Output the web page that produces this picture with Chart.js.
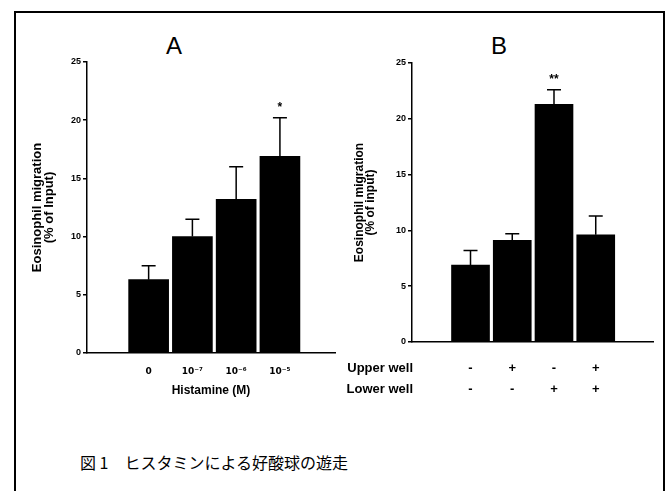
<!DOCTYPE html>
<html>
<head>
<meta charset="utf-8">
<script src="https://cdn.jsdelivr.net/npm/chart.js@4"></script>
<style>
	body { margin: 0; background: #fff; }
	#wrap { position: relative; width: 667px; height: 491px; overflow: hidden; }
	#frame { position: absolute; left: 14px; top: 11px; width: 647px; height: 520px; border: 2px solid #000; }
	.panel { position: absolute; font-family: 'Liberation Sans', Arial, sans-serif; font-size: 24px; color: #000; }
	#caption { position: absolute; left: 80px; top: 450px; font-family: 'Noto Sans CJK JP', sans-serif; font-size: 16px; color: #000; }
	canvas { position: absolute; }
</style>
</head>
<body>
<div id="wrap">
	<div id="frame"></div>
	<div class="panel" style="left:166px; top:32px;">A</div>
	<div class="panel" style="left:491px; top:32px;">B</div>
	<canvas id="chartA" style="left:0; top:0; width:340px; height:420px;" width="340" height="420"></canvas>
	<canvas id="chartB" style="left:330px; top:0; width:337px; height:420px;" width="337" height="420"></canvas>
	<div id="caption">図 1　ヒスタミンによる好酸球の遊走</div>
</div>
<script>
// Panel A: histamine dose response
const histamineLabels = ['0', '10⁻⁷', '10⁻⁶', '10⁻⁵']
const histamineMean = [6.3, 10.0, 13.2, 16.9]
const histamineSem = [1.2, 1.5, 2.8, 3.3]
const histamineMarks = ['', '', '', '*']

// Panel B: checkerboard (upper / lower well)
const upperWell = ['-', '+', '-', '+']
const lowerWell = ['-', '-', '+', '+']
const wellMean = [6.9, 9.1, 21.3, 9.6]
const wellSem = [1.3, 0.6, 1.3, 1.7]
const wellMarks = ['', '', '**', '']

const yTicks = [0, 5, 10, 15, 20, 25]
const sans = "'Liberation Sans', Arial, sans-serif"
const tickFont = { family: sans, size: 9, weight: 'bold' }

const errorBars = {
	id: 'errorBars',
	afterDatasetsDraw(chart, args, opts) {
		const ctx = chart.ctx
		const y = chart.scales.y
		const meta = chart.getDatasetMeta(0)
		ctx.save()
		ctx.strokeStyle = '#000'
		ctx.lineWidth = 1.5
		ctx.fillStyle = '#000'
		meta.data.forEach((bar, i) => {
			const top = y.getPixelForValue(opts.mean[i] + opts.sem[i])
			ctx.beginPath()
			ctx.moveTo(bar.x, bar.y)
			ctx.lineTo(bar.x, top)
			ctx.moveTo(bar.x - 7, top)
			ctx.lineTo(bar.x + 7, top)
			ctx.stroke()
			if (opts.marks[i]) {
				ctx.font = 'bold 12px ' + sans
				ctx.textAlign = 'center'
				ctx.textBaseline = 'bottom'
				ctx.fillText(opts.marks[i], bar.x, top - 4)
			}
		})
		ctx.restore()
	}
}

const rowLabels = {
	id: 'rowLabels',
	afterDraw(chart, args, opts) {
		if (!opts.labels) return
		const ctx = chart.ctx
		const x = chart.scales.x
		ctx.save()
		ctx.font = 'bold 13px ' + sans
		ctx.fillStyle = '#000'
		ctx.textAlign = 'right'
		ctx.textBaseline = 'middle'
		opts.labels.forEach((t, i) => {
			ctx.fillText(t, x.left + 1, x.top + opts.padding + opts.lineHeight * (i + 0.5))
		})
		ctx.restore()
	}
}

function makeChart(id, cfg) {
	const points = cfg.mean.map((v, i) => ({ x: i + 1, y: v }))
	return new Chart(document.getElementById(id), {
		type: 'bar',
		data: {
			datasets: [{
				data: points,
				backgroundColor: '#000',
				borderWidth: 0,
				barThickness: cfg.barWidth
			}]
		},
		plugins: [errorBars, rowLabels],
		options: {
			responsive: false,
			animation: false,
			layout: { padding: cfg.padding },
			plugins: {
				legend: { display: false },
				tooltip: { enabled: false },
				errorBars: { mean: cfg.mean, sem: cfg.sem, marks: cfg.marks },
				rowLabels: cfg.rowLabels || {}
			},
			scales: {
				x: {
					type: 'linear',
					min: cfg.xMin,
					max: cfg.xMax,
					afterBuildTicks: scale => { scale.ticks = cfg.mean.map((v, i) => ({ value: i + 1 })) },
					afterFit: scale => { scale.height = cfg.xHeight },
					border: { color: '#000', width: 1.5 },
					grid: { display: true, drawOnChartArea: false, drawTicks: false },
					ticks: {
						autoSkip: false,
						maxRotation: 0,
						padding: cfg.xTickPadding,
						color: '#000',
						font: cfg.xFont,
						callback: v => cfg.xLabel(v - 1)
					},
					title: {
						display: !!cfg.xTitle,
						text: cfg.xTitle,
						color: '#000',
						padding: { top: 0, bottom: 0 },
						font: { family: sans, size: 12, weight: 'bold' }
					}
				},
				y: {
					min: 0,
					max: 25,
					afterBuildTicks: scale => { scale.ticks = yTicks.map(v => ({ value: v })) },
					afterFit: scale => { scale.width = cfg.yWidth },
					border: { color: '#000', width: 1.5 },
					grid: { drawOnChartArea: false, drawTicks: true, tickLength: 4, color: '#000', lineWidth: 1.5 },
					ticks: { color: '#000', font: tickFont, padding: 2 },
					title: {
						display: true,
						text: cfg.yTitle,
						color: '#000',
						padding: 2,
						font: { family: sans, size: cfg.yTitleSize, weight: 'bold', lineHeight: 0.95 }
					}
				}
			}
		}
	})
}

makeChart('chartA', {
	mean: histamineMean,
	sem: histamineSem,
	marks: histamineMarks,
	barWidth: 40,
	xMin: 0.30,
	xMax: 4.55,
	padding: { left: 29, right: 5, top: 62, bottom: 22 },
	yWidth: 58,
	xHeight: 45,
	xTickPadding: 13,
	xFont: { family: "'DejaVu Sans', sans-serif", size: 9, weight: 'bold' },
	xLabel: i => histamineLabels[i],
	xTitle: 'Histamine (M)',
	yTitleSize: 13,
	yTitle: ['Eosinophil migration', '(% of Input)']
})

makeChart('chartB', {
	mean: wellMean,
	sem: wellSem,
	marks: wellMarks,
	barWidth: 38,
	xMin: 0.32,
	xMax: 4.65,
	padding: { left: 22, right: 14, top: 63, bottom: 0 },
	yWidth: 60,
	xHeight: 78,
	xTickPadding: 16,
	xFont: { family: sans, size: 13, weight: 'bold', lineHeight: 1.62 },
	xLabel: i => [upperWell[i], lowerWell[i]],
	xTitle: '',
	yTitleSize: 12,
	yTitle: ['Eosinophil migration', '(% of input)'],
	rowLabels: { labels: ['Upper well', 'Lower well'], padding: 16, lineHeight: 21 }
})
</script>
</body>
</html>
